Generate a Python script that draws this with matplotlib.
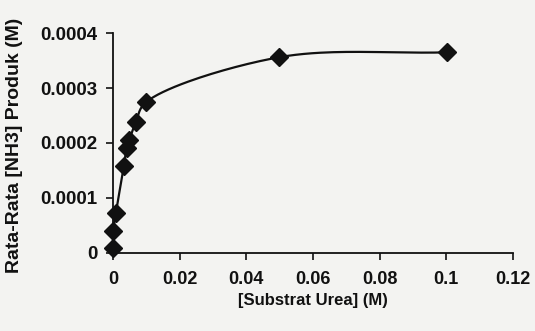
import numpy as np
import matplotlib
matplotlib.use("Agg")
import matplotlib.pyplot as plt

# Data
urea = [0.0, 0.0001, 0.0009, 0.0033, 0.0041, 0.0049, 0.0069, 0.0099, 0.0498, 0.1003]
nh3 = [0.000009, 0.000039, 0.000073, 0.000158, 0.00019, 0.000205, 0.000239, 0.000274, 0.000356, 0.000365]

x_ticks = [0, 0.02, 0.04, 0.06, 0.08, 0.1, 0.12]
x_tick_labels = ["0", "0.02", "0.04", "0.06", "0.08", "0.1", "0.12"]
y_ticks = [0, 0.0001, 0.0002, 0.0003, 0.0004]
y_tick_labels = ["0", "0.0001", "0.0002", "0.0003", "0.0004"]

BG = "#f3f3f1"
INK = "#111111"
plt.rcParams['font.family'] = ['Liberation Sans', 'DejaVu Sans']


def smooth_curve(ax, xs, ys, n=40):
    # centripetal Catmull-Rom in (roughly) pixel space, like a spreadsheet smoothed line
    x0, x1 = ax.get_xlim()
    y0, y1 = ax.get_ylim()
    bb = ax.get_position()
    W, H = bb.width * 535, bb.height * 331
    pts = np.column_stack([(np.asarray(xs) - x0) / (x1 - x0) * W,
                           (np.asarray(ys) - y0) / (y1 - y0) * H])
    pts = np.vstack([2 * pts[0] - pts[1], pts, 2 * pts[-1] - pts[-2]])
    out = []
    for i in range(1, len(pts) - 2):
        p0, p1, p2, p3 = pts[i - 1], pts[i], pts[i + 1], pts[i + 2]
        t0 = 0.0
        t1 = t0 + max(np.linalg.norm(p1 - p0), 1e-6) ** 0.5
        t2 = t1 + max(np.linalg.norm(p2 - p1), 1e-6) ** 0.5
        t3 = t2 + max(np.linalg.norm(p3 - p2), 1e-6) ** 0.5
        t = np.linspace(t1, t2, n)[:, None]
        a1 = (t1 - t) / (t1 - t0) * p0 + (t - t0) / (t1 - t0) * p1
        a2 = (t2 - t) / (t2 - t1) * p1 + (t - t1) / (t2 - t1) * p2
        a3 = (t3 - t) / (t3 - t2) * p2 + (t - t2) / (t3 - t2) * p3
        b1 = (t2 - t) / (t2 - t0) * a1 + (t - t0) / (t2 - t0) * a2
        b2 = (t3 - t) / (t3 - t1) * a2 + (t - t1) / (t3 - t1) * a3
        c = (t2 - t) / (t2 - t1) * b1 + (t - t1) / (t2 - t1) * b2
        out.append(c)
    out = np.vstack(out)
    return out[:, 0] / W * (x1 - x0) + x0, out[:, 1] / H * (y1 - y0) + y0


fig = plt.figure(figsize=(5.35, 3.31), dpi=100, facecolor=BG)
ax = fig.add_axes([0.211, 0.236, 0.748, 0.664])
ax.set_facecolor(BG)

ax.set_xlim(0, 0.12)
ax.set_ylim(0, 0.0004)

sx, sy = smooth_curve(ax, urea, nh3)
ax.plot(sx, sy, color=INK, lw=1.6, clip_on=False, zorder=2)
ax.plot(urea, nh3, linestyle="none", marker="D", markersize=9.5,
        color=INK, clip_on=False, zorder=3)

ax.set_xticks(x_ticks)
ax.set_xticklabels(x_tick_labels)
ax.set_yticks(y_ticks)
ax.set_yticklabels(y_tick_labels)

for s in ["top", "right"]:
    ax.spines[s].set_visible(False)
for s in ["left", "bottom"]:
    ax.spines[s].set_linewidth(1.3)
    ax.spines[s].set_color(INK)

ax.tick_params(axis="both", direction="out", length=5, width=1.2, color=INK, pad=6)
ax.tick_params(axis="y", labelsize=13.5, pad=6)
ax.tick_params(axis="x", labelsize=13, pad=8)
for lab in ax.get_xticklabels() + ax.get_yticklabels():
    lab.set_fontweight("bold")
    lab.set_color(INK)

ax.set_xlabel("[Substrat Urea] (M)", fontsize=12, fontweight="bold", color=INK, labelpad=4)
ax.set_ylabel("Rata-Rata [NH3] Produk (M)", fontsize=14, fontweight="bold", color=INK)
ax.yaxis.set_label_coords(-0.225, 0.49)

fig.savefig("out.png", dpi=100, facecolor=BG)
